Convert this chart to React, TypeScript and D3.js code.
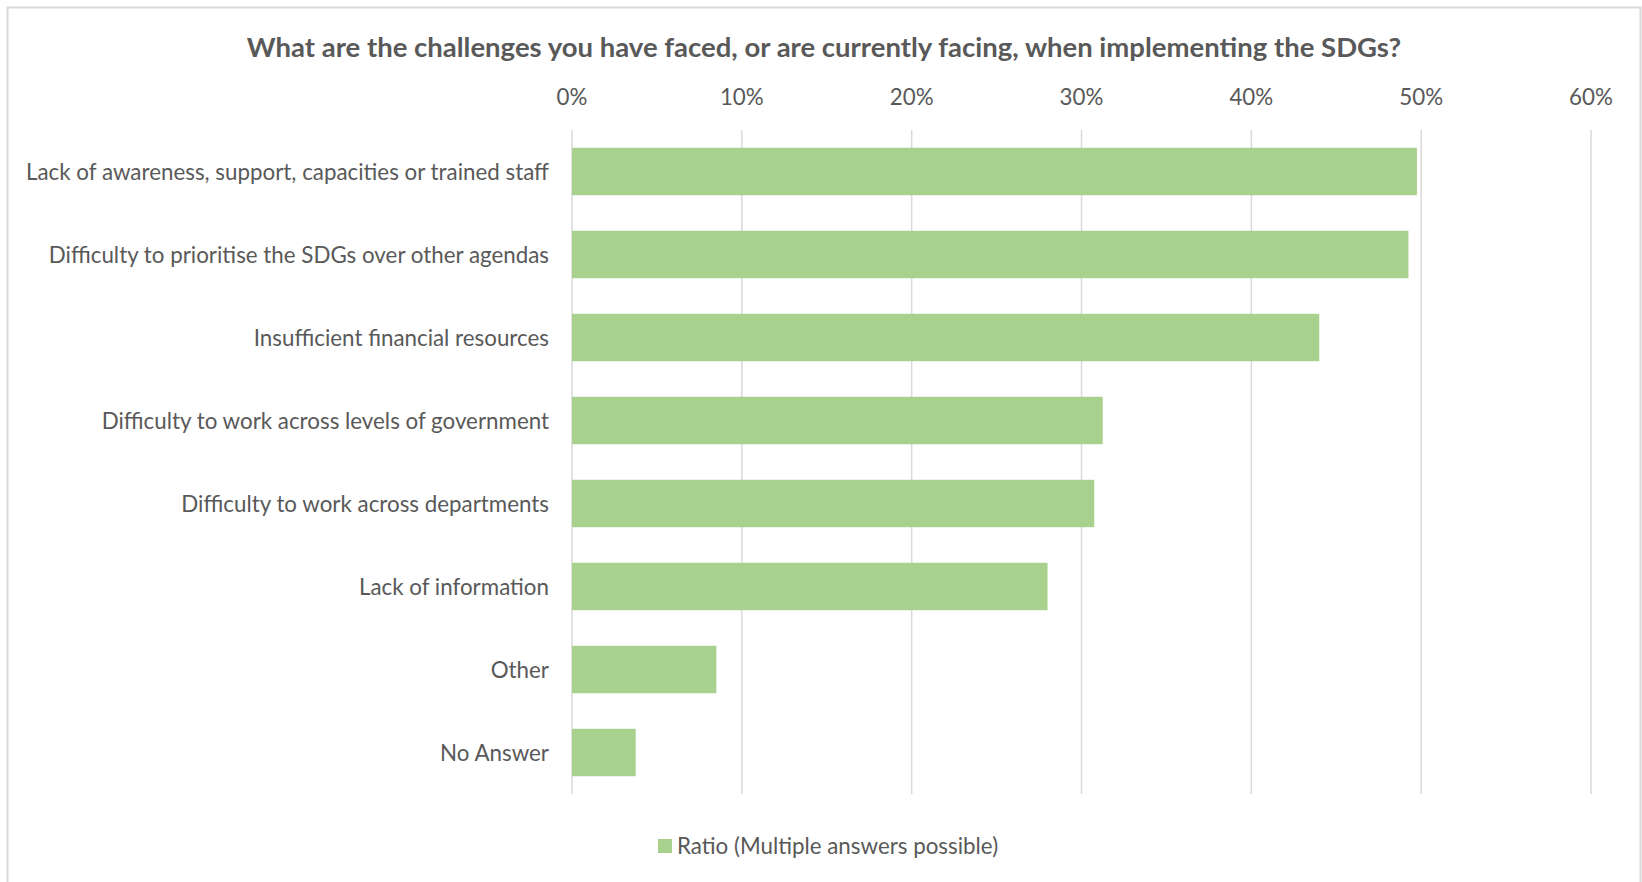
import React, { useMemo } from "react";
import * as d3 from "d3";

const title =
  "What are the challenges you have faced, or are currently facing, when implementing the SDGs?";
const categories = [
  "Lack of awareness, support, capacities or trained staff",
  "Difficulty to prioritise the SDGs over other agendas",
  "Insufficient financial resources",
  "Difficulty to work across levels of government",
  "Difficulty to work across departments",
  "Lack of information",
  "Other",
  "No Answer",
];
const values = [0.4975, 0.4925, 0.44, 0.3125, 0.3075, 0.28, 0.085, 0.0375];
const tickValues = [0, 0.1, 0.2, 0.3, 0.4, 0.5, 0.6];
const seriesName = "Ratio (Multiple answers possible)";

const W = 1642;
const H = 882;
const FONT = "Lato, 'Open Sans', sans-serif";
const TEXT = "#595959";
const GRID = "#d9d9d9";
const BAR = "#a9d18e";

function measure(text: string, font: string): number {
  const ctx = document.createElement("canvas").getContext("2d");
  if (!ctx) return 0;
  ctx.font = font;
  return ctx.measureText(text).width;
}

export default function App() {
  const sizes = useMemo(() => {
    const m1 = measure(categories[0], `24px ${FONT}`);
    const m2 = measure(title, `bold 28px ${FONT}`);
    const reg = m1 > 0 ? (24 * 524) / m1 : 22;
    const ttl = m2 > 0 ? (28 * 1157) / m2 : 26;
    return { reg, ttl };
  }, []);

  const x = d3.scaleLinear().domain([0, 0.6]).range([572, 1591]);
  const y = d3
    .scaleBand<string>()
    .domain(categories)
    .range([130, 794])
    .paddingInner(0.4286)
    .paddingOuter(0.2143);
  const fmt = d3.format(".0%");

  return (
    <svg
      width={W}
      height={H}
      style={{ position: "absolute", left: 0, top: 0, display: "block", background: "#fff" }}
      fontFamily={FONT}
    >
      <rect x={0} y={0} width={W} height={H} fill="#fff" />
      <rect x={7.5} y={7.5} width={1633} height={900} fill="none" stroke={GRID} strokeWidth={2} />
      <text
        x={824}
        y={57}
        textAnchor="middle"
        fontWeight="bold"
        fontSize={sizes.ttl}
        fill={TEXT}
      >
        {title}
      </text>
      {tickValues.map((t) => (
        <g key={t}>
          <line x1={x(t)} x2={x(t)} y1={130} y2={794} stroke={GRID} strokeWidth={1.5} />
          <text x={x(t)} y={105} textAnchor="middle" fontSize={sizes.reg} fill={TEXT}>
            {fmt(t)}
          </text>
        </g>
      ))}
      {categories.map((c, i) => {
        const by = y(c) as number;
        const bh = y.bandwidth();
        return (
          <g key={c}>
            <rect x={x(0)} y={by} width={x(values[i]) - x(0)} height={bh} fill={BAR} />
            <text
              x={549}
              y={by + bh / 2 + 8}
              textAnchor="end"
              fontSize={sizes.reg}
              fill={TEXT}
            >
              {c}
            </text>
          </g>
        );
      })}
      <rect x={658} y={839} width={14} height={14} fill={BAR} />
      <text x={677} y={854} fontSize={sizes.reg} fill={TEXT}>
        {seriesName}
      </text>
    </svg>
  );
}
